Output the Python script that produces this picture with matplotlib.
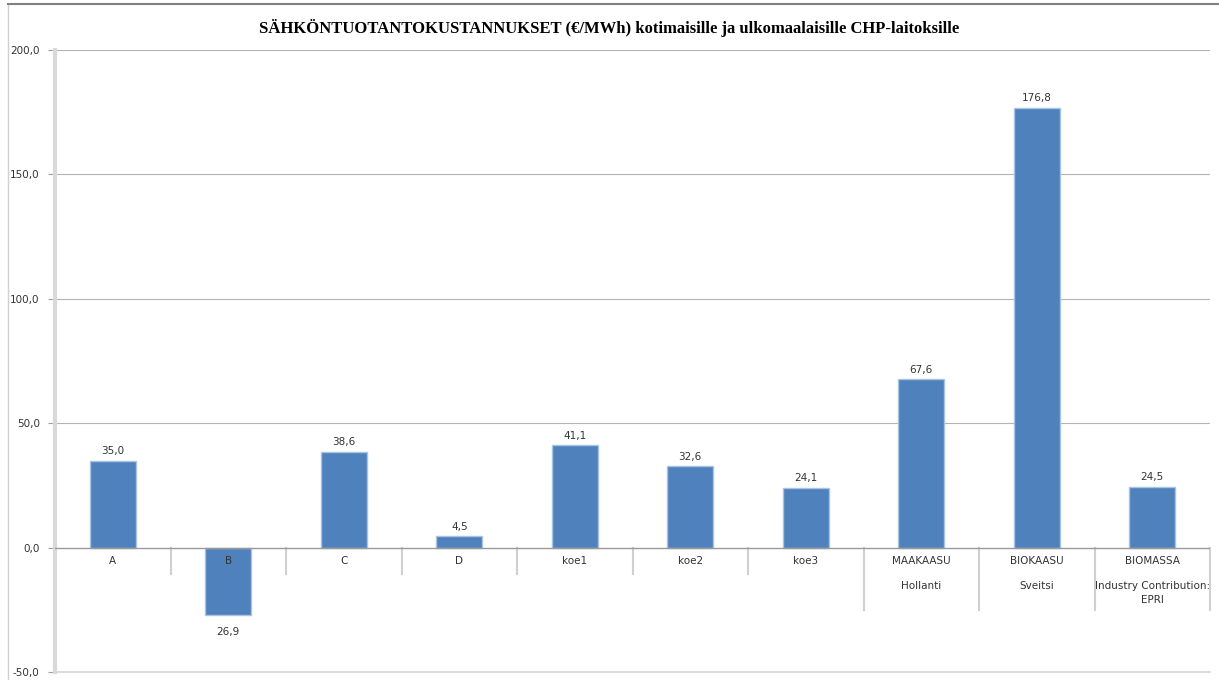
import matplotlib
matplotlib.use("Agg")
import matplotlib.pyplot as plt
from matplotlib.lines import Line2D

categories = ["A", "B", "C", "D", "koe1", "koe2", "koe3", "MAAKAASU", "BIOKAASU", "BIOMASSA"]
sublabels = ["", "", "", "", "", "", "", "Hollanti", "Sveitsi", "Industry Contribution:\nEPRI"]
values = [35.0, -26.9, 38.6, 4.5, 41.1, 32.6, 24.1, 67.6, 176.8, 24.5]
yticks = [-50, 0, 50, 100, 150, 200]

title = "SÄHKÖNTUOTANTOKUSTANNUKSET (€/MWh) kotimaisille ja ulkomaalaisille CHP-laitoksille"

fig = plt.figure(figsize=(12.19, 6.8), dpi=100)
ax = fig.add_axes([55 / 1219, 1 - 672 / 680, 1155 / 1219, 622 / 680])

x = list(range(len(categories)))
ax.bar(x, values, width=0.4, color="#4F81BD", edgecolor="#A9C3E3", linewidth=1, zorder=3)

ax.set_xlim(-0.5, len(categories) - 0.5)
ax.set_ylim(-50, 200)
ax.set_yticks(yticks)
ax.set_yticklabels([f"{v:.1f}".replace(".", ",") for v in yticks],
                   fontsize=7.5, color="#333333")
ax.tick_params(axis="y", length=5, width=0.8, color="#A0A0A0", pad=6)
ax.set_xticks([])

for s in ["top", "right", "bottom"]:
    ax.spines[s].set_visible(False)
ax.spines["left"].set_color("#D9D9D9")
ax.spines["left"].set_linewidth(3)

for v in [50, 100, 150, 200]:
    ax.axhline(v, color="#B4B4B4", linewidth=0.8, zorder=1)
ax.axhline(-50, color="#D4D4D4", linewidth=1.2, zorder=1, clip_on=False)
ax.axhline(0, color="#9A9A9A", linewidth=1, zorder=4)

# category separators below the axis
for i in range(len(categories)):
    xs = i + 0.5
    y_end = -25 if i >= 6 else -10.8
    ax.plot([xs, xs], [0, y_end], color="#D0D0D0", linewidth=1.5, zorder=2, clip_on=False)

for i, (cat, sub, v) in enumerate(zip(categories, sublabels, values)):
    ax.text(i, -5.3, cat, ha="center", va="center", fontsize=7.5, color="#333333")
    if sub:
        ax.text(i, -13.3, sub, ha="center", va="top", fontsize=7.5, color="#333333",
                linespacing=1.5)
    label = f"{abs(v):.1f}".replace(".", ",")
    if v >= 0:
        ax.text(i, v + 1.8, label, ha="center", va="bottom", fontsize=7.5, color="#333333")
    else:
        ax.text(i, v - 5.0, label, ha="center", va="top", fontsize=7.5, color="#333333")

fig.text(0.5, 1 - 28 / 680, title, ha="center", va="center", fontsize=12,
         fontweight="bold", family="Liberation Serif")

# chart frame
fig.add_artist(Line2D([8 / 1219, 8 / 1219], [0, 1 - 4 / 680], color="#D0D0D0", linewidth=1,
                      transform=fig.transFigure))
fig.add_artist(Line2D([8 / 1219, 1], [1 - 4 / 680, 1 - 4 / 680], color="#808080", linewidth=1.5,
                      transform=fig.transFigure))

fig.savefig("out.png", dpi=100)
